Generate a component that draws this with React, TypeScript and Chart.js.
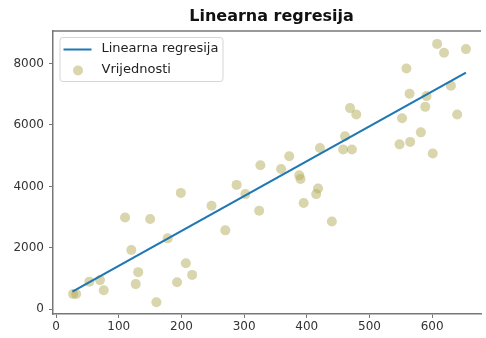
import React, { useEffect, useRef } from "react";
import { Chart, registerables } from "chart.js";

Chart.register(...registerables);

const titleText = "Linearna regresija";
const lineLabel = "Linearna regresija";
const pointLabel = "Vrijednosti";

const xValues = [27, 32, 53, 70, 76, 110, 120, 127, 131, 150, 160, 178, 193, 199, 207, 217, 248, 270, 288, 302, 324, 326, 359, 372, 388, 390, 395, 415, 418, 421, 440, 458, 461, 469, 472, 479, 548, 552, 559, 564, 565, 582, 589, 591, 601, 608, 619, 630, 640, 654];
const yValues = [500, 500, 900, 950, 620, 2990, 1930, 820, 1210, 2940, 230, 2310, 880, 3790, 1500, 1120, 3370, 2570, 4050, 3750, 3210, 4690, 4570, 4980, 4360, 4240, 3460, 3750, 3930, 5250, 2860, 5200, 5630, 6550, 5200, 6340, 5370, 6220, 7840, 7020, 5450, 5760, 6590, 6940, 5070, 8640, 8350, 7280, 6340, 8470];

const lineX = [26, 654];
const lineY = [575, 7705];

const xTicks = [0, 100, 200, 300, 400, 500, 600];
const yTicks = [0, 2000, 4000, 6000, 8000];

const LINE_COLOR = "#1f77b4";
const POINT_COLOR = "rgba(180,172,90,0.5)";
const SPINE = "#777777";
const FONT = "'DejaVu Sans', sans-serif";

const overlayPlugin = {
  id: "overlay",
  afterDraw(chart: any) {
    const { ctx, chartArea } = chart;
    ctx.save();
    // top spine
    ctx.strokeStyle = SPINE;
    ctx.lineWidth = 1.5;
    ctx.beginPath();
    ctx.moveTo(chartArea.left, chartArea.top);
    ctx.lineTo(chartArea.right, chartArea.top);
    ctx.stroke();

    // title
    ctx.fillStyle = "#111";
    ctx.font = `bold 16px ${FONT}`;
    ctx.textAlign = "center";
    ctx.textBaseline = "middle";
    ctx.fillText(titleText, (chartArea.left + 490) / 2, 17);

    // legend
    const lx = chartArea.left + 6.5;
    const ly = chartArea.top + 6;
    const w = 163;
    const h = 44;
    ctx.beginPath();
    (ctx as any).roundRect(lx + 0.5, ly + 0.5, w, h, 3);
    ctx.fillStyle = "rgba(255,255,255,0.85)";
    ctx.fill();
    ctx.strokeStyle = "#d5d5d5";
    ctx.lineWidth = 1;
    ctx.stroke();

    ctx.strokeStyle = LINE_COLOR;
    ctx.lineWidth = 2;
    ctx.beginPath();
    ctx.moveTo(lx + 4, ly + 12.5);
    ctx.lineTo(lx + 32, ly + 12.5);
    ctx.stroke();

    ctx.fillStyle = POINT_COLOR;
    ctx.beginPath();
    ctx.arc(lx + 18.5, ly + 33.5, 5, 0, Math.PI * 2);
    ctx.fill();

    ctx.fillStyle = "#222";
    ctx.font = `13px ${FONT}`;
    ctx.textAlign = "left";
    ctx.textBaseline = "middle";
    ctx.fillText(lineLabel, lx + 42, ly + 12);
    ctx.fillText(pointLabel, lx + 42, ly + 32.5);
    ctx.restore();
  },
};

export default function App() {
  const ref = useRef<HTMLCanvasElement>(null);
  useEffect(() => {
    document.body.style.margin = "0";
    const canvas = ref.current;
    if (!canvas) return;
    const chart = new Chart(canvas, {
      type: "scatter",
      data: {
        datasets: [
          {
            type: "line",
            label: lineLabel,
            data: lineX.map((x, i) => ({ x, y: lineY[i] })),
            borderColor: LINE_COLOR,
            borderWidth: 2.2,
            pointRadius: 0,
            showLine: true,
            fill: false,
            order: 0,
          } as any,
          {
            type: "scatter",
            label: pointLabel,
            data: xValues.map((x, i) => ({ x, y: yValues[i] })),
            backgroundColor: POINT_COLOR,
            borderWidth: 0,
            pointRadius: 5,
            order: 1,
          },
        ],
      },
      options: {
        responsive: false,
        animation: false,
        layout: { padding: { top: 31, right: 0, left: 0, bottom: 0 } },
        plugins: {
          legend: { display: false },
          title: { display: false },
          tooltip: { enabled: false },
        },
        scales: {
          x: {
            type: "linear",
            min: -5,
            max: 678,
            afterBuildTicks: (s: any) => {
              s.ticks = xTicks.map((v) => ({ value: v }));
            },
            afterFit: (s: any) => {
              s.height = 24;
            },
            grid: {
              display: true,
              drawOnChartArea: false,
              drawTicks: true,
              tickLength: 4,
              color: SPINE,
              lineWidth: 1,
            },
            border: { display: true, color: SPINE, width: 1.5 },
            ticks: {
              color: "#333",
              font: { family: FONT, size: 12 },
              padding: 2,
              maxRotation: 0,
              autoSkip: false,
              callback: (v: any) => String(v),
            },
          },
          y: {
            type: "linear",
            min: -153,
            max: 9060,
            afterBuildTicks: (s: any) => {
              s.ticks = yTicks.map((v) => ({ value: v }));
            },
            afterFit: (s: any) => {
              s.width = 53;
            },
            grid: {
              display: true,
              drawOnChartArea: false,
              drawTicks: true,
              tickLength: 4,
              color: SPINE,
              lineWidth: 1,
            },
            border: { display: true, color: SPINE, width: 1.5 },
            ticks: {
              color: "#333",
              font: { family: FONT, size: 12 },
              padding: 5,
              autoSkip: false,
              callback: (v: any) => String(v),
            },
          },
        },
      },
      plugins: [overlayPlugin],
    });
    return () => chart.destroy();
  }, []);
  return (
    <div style={{ width: 486, height: 338 }}>
      <canvas ref={ref} width={486} height={338} />
    </div>
  );
}
